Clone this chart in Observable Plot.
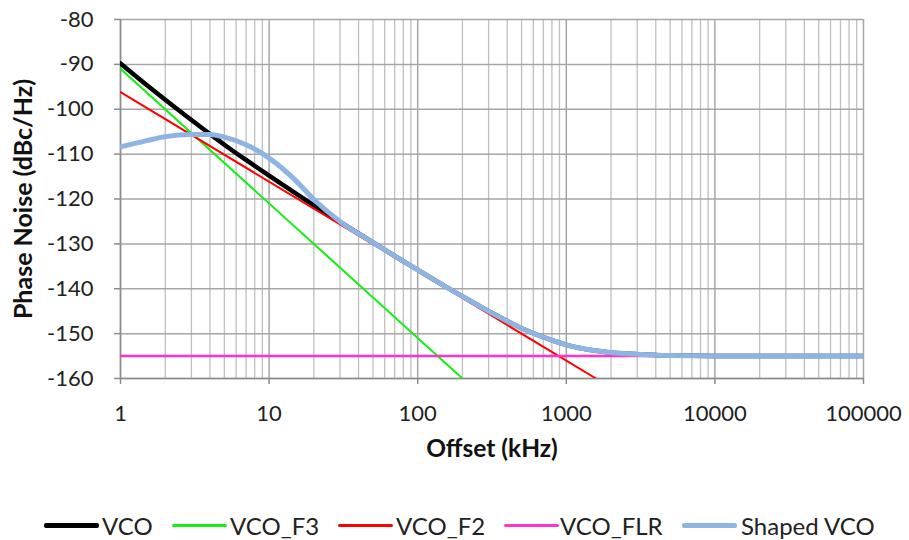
<!DOCTYPE html>
<html>
<head>
<meta charset="utf-8">
<script src="https://cdn.jsdelivr.net/npm/d3@7"></script>
<script src="https://cdn.jsdelivr.net/npm/@observablehq/plot@0.6"></script>
<style>
  html, body { margin: 0; padding: 0; background: #fff; }
  #wrap { position: relative; width: 909px; height: 540px; }
  #legend { position: relative; width: 909px; height: 45px; font-family: Lato, sans-serif; font-size: 24px; color: #222; }
  .sw { position: absolute; height: 0; }
  .lt { position: absolute; top: 0; line-height: 45px; white-space: nowrap; }
</style>
</head>
<body>
<div id="wrap"></div>
<script>
// ---- data ----
const offsets = [1, 1.5, 2, 3, 4, 5, 7, 10, 15, 20, 30, 50, 70, 100, 150, 200, 300, 500, 700, 1000, 1500, 2000, 3000, 5000, 10000, 20000, 50000, 100000];
const vco     = [-89.8, -94.6, -97.9, -102.4, -105.5, -107.9, -111.3, -114.8, -118.7, -121.4, -125.1, -129.7, -132.7, -135.8, -139.3, -141.7, -145.0, -148.8, -150.8, -152.5, -153.7, -154.2, -154.6, -154.9, -155.0, -155.0, -155.0, -155.0];
const shapedVco = [-108.4, -107.0, -106.1, -105.6, -105.6, -106.2, -107.9, -110.9, -115.8, -120.1, -125.0, -129.7, -132.7, -135.8, -139.3, -141.7, -145.0, -148.8, -150.8, -152.5, -153.7, -154.2, -154.6, -154.9, -155.0, -155.0, -155.0, -155.0];
const f3Offsets = [1, 200];
const vcoF3 = [-91.0, -160.0];
const f2Offsets = [1, 1585];
const vcoF2 = [-96.2, -160.0];
const flrOffsets = [1, 100000];
const vcoFlr = [-155, -155];

const xTicks = [1, 10, 100, 1000, 10000, 100000];
const yTicks = [-160, -150, -140, -130, -120, -110, -100, -90, -80];
const xGrid = xTicks.slice(0, -1).flatMap(d => [2,3,4,5,6,7,8,9].map(m => d * m));

const seriesNames = ["VCO", "VCO_F3", "VCO_F2", "VCO_FLR", "Shaped VCO"];
const seriesColors = ["#000000", "#14f014", "#ff0000", "#ff33cc", "#8db4e2"];
const seriesWidths = [4.5, 2, 2, 2.5, 5];

const rows = (xs, ys, s) => xs.map((x, i) => ({x, y: ys[i], s}));
const data = [
  rows(offsets, vco, "VCO"),
  rows(f3Offsets, vcoF3, "VCO_F3"),
  rows(f2Offsets, vcoF2, "VCO_F2"),
  rows(flrOffsets, vcoFlr, "VCO_FLR"),
  rows(offsets, shapedVco, "Shaped VCO")
];

const font = "Lato, sans-serif";

const chart = Plot.plot({
  width: 909,
  height: 495,
  marginLeft: 120,
  marginRight: 46,
  marginTop: 19,
  marginBottom: 117,
  style: {fontFamily: font, background: "#fff", color: "#222"},
  x: {type: "log", domain: [1, 100000]},
  y: {domain: [-160, -80]},
  marks: [
    Plot.ruleX(xGrid, {stroke: "#bfbfbf", strokeWidth: 1.3}),
    Plot.ruleX(xTicks, {stroke: "#a6a6a6", strokeWidth: 1.5}),
    Plot.ruleY(yTicks, {stroke: "#a6a6a6", strokeWidth: 1.5}),
    Plot.ruleY([-160], {stroke: "#8c8c8c", strokeWidth: 1.5}),
    Plot.ruleX([1], {stroke: "#8c8c8c", strokeWidth: 1.5}),
    Plot.axisX({ticks: xTicks, tickFormat: d => String(d), tickSize: 6, tickPadding: 21, fontSize: 22, stroke: "#8c8c8c", strokeWidth: 1.5, label: null}),
    Plot.axisY({ticks: yTicks, tickFormat: d => String(d), tickSize: 6, tickPadding: 21, fontSize: 22, stroke: "#8c8c8c", strokeWidth: 1.5, label: null}),
    ...data.map((d, i) => Plot.line(d, {
      x: "x", y: "y",
      stroke: seriesColors[i],
      strokeWidth: seriesWidths[i],
      curve: "monotone-x",
      clip: true
    })),
    Plot.text(["Offset (kHz)"], {frameAnchor: "bottom", dy: 78, fontSize: 24.5, fontWeight: "bold", fontFamily: font, fill: "#111"}),
    Plot.text(["Phase Noise (dBc/Hz)"], {frameAnchor: "left", rotate: -90, textAnchor: "middle", dx: -97, fontSize: 25, fontWeight: "bold", fontFamily: font, fill: "#111"})
  ]
});

const wrap = document.getElementById("wrap");
wrap.appendChild(chart);

// legend (HTML, below the SVG)
const legend = document.createElement("div");
legend.id = "legend";
const swLeft = [44, 172, 338, 504, 682];
const txLeft = [102, 230, 396, 560, 741];
seriesNames.forEach((name, i) => {
  const sw = document.createElement("div");
  sw.className = "sw";
  sw.style.left = swLeft[i] + "px";
  sw.style.width = "55px";
  const th = i === 0 || i === 4 ? 5 : 3;
  sw.style.top = (30 - th / 2) + "px";
  sw.style.borderTop = th + "px solid " + seriesColors[i];
  sw.style.borderRadius = "2px";
  legend.appendChild(sw);
  const tx = document.createElement("div");
  tx.className = "lt";
  tx.style.left = txLeft[i] + "px";
  tx.style.top = "8px";
  tx.textContent = name;
  legend.appendChild(tx);
});
wrap.appendChild(legend);
</script>
</body>
</html>
